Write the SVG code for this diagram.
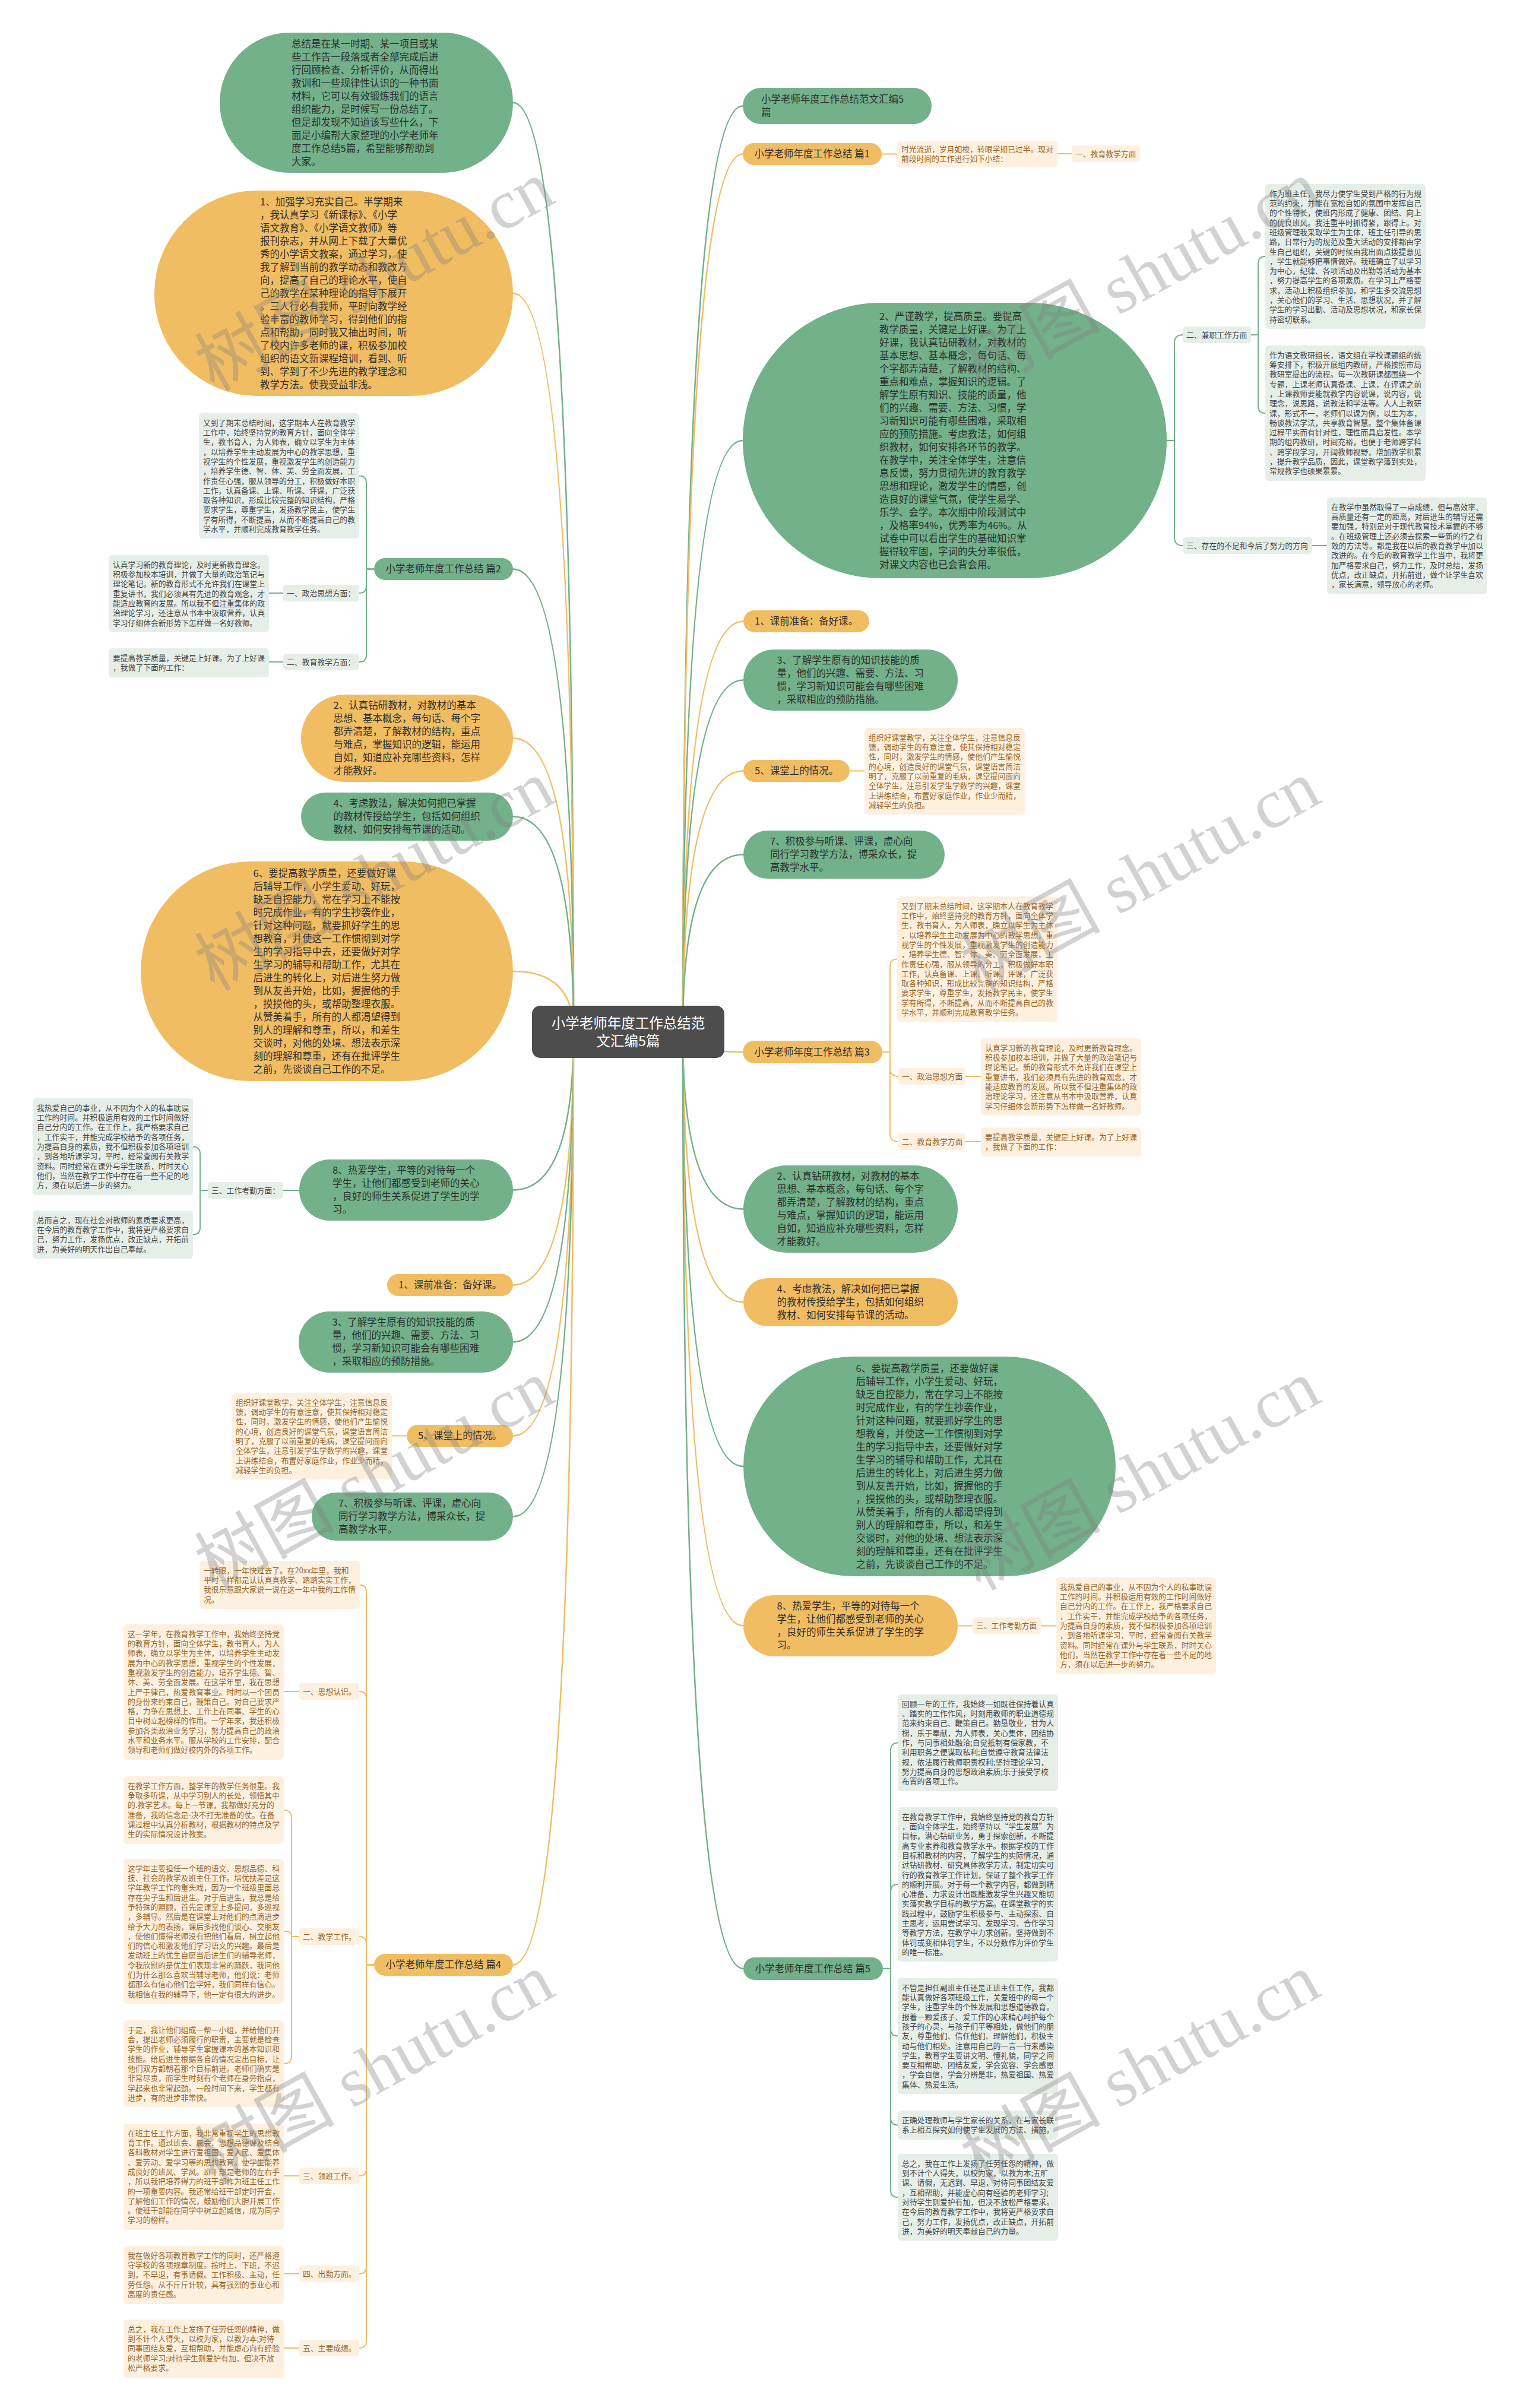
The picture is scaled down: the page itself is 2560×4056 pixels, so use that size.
<svg xmlns="http://www.w3.org/2000/svg" width="2560" height="4056" viewBox="0 0 2560 4056">
<style>
text{font-family:"Noto Sans CJK SC","Noto Sans",sans-serif}
.g{fill:#72b18a}
.o{fill:#f1bd63}
.lg{fill:#e6eee8}
.lo{fill:#fdf0df}
.t{font-size:16.5px;fill:#2e2e2e}
.s{font-size:12.8px;fill:#474747}
.so{font-size:12.8px;fill:#9a6628}
.cg{fill:none;stroke:#72b18a;stroke-width:2.5}
.co{fill:none;stroke:#f1bd63;stroke-width:2.5}
.sg{fill:none;stroke:#72b18a;stroke-width:2}
.sob{fill:none;stroke:#f1bd63;stroke-width:2}
.wm{font-family:"Liberation Serif","Noto Sans CJK SC",serif;font-size:118px;fill:#808080;opacity:.35}
</style>
<rect width="2560" height="4056" fill="#ffffff"/>

<g id="connectors">
<path class="cg" d="M966 1738 Q966 173 864 173"/>
<path class="co" d="M966 1738 Q966 494 864 494"/>
<path class="cg" d="M966 1738 Q966 958.5 864 958.5"/>
<path class="co" d="M966 1738 Q966 1243.5 864 1243.5"/>
<path class="cg" d="M966 1738 Q966 1375.5 864 1375.5"/>
<path class="co" d="M966 1738 Q966 1636 864 1636"/>
<path class="cg" d="M966 1738 Q966 2004.5 864 2004.5"/>
<path class="co" d="M966 1738 Q966 2164.5 864 2164.5"/>
<path class="cg" d="M966 1738 Q966 2260.5 864 2260.5"/>
<path class="co" d="M966 1738 Q966 2418.5 864 2418.5"/>
<path class="cg" d="M966 1738 Q966 2554.5 864 2554.5"/>
<path class="co" d="M966 1738 Q966 3309.5 864 3309.5"/>
<path class="cg" d="M1150 1738 Q1150 178.5 1251 178.5"/>
<path class="co" d="M1150 1738 Q1150 259.5 1251 259.5"/>
<path class="cg" d="M1150 1738 Q1150 742 1251 742"/>
<path class="co" d="M1150 1738 Q1150 1046.5 1252 1046.5"/>
<path class="cg" d="M1150 1738 Q1150 1145.5 1252 1145.5"/>
<path class="co" d="M1150 1738 Q1150 1298.5 1252 1298.5"/>
<path class="cg" d="M1150 1738 Q1150 1439.5 1252 1439.5"/>
<path class="co" d="M1150 1738 Q1150 1772 1251 1772"/>
<path class="cg" d="M1150 1738 Q1150 2036.5 1252 2036.5"/>
<path class="co" d="M1150 1738 Q1150 2193.5 1252 2193.5"/>
<path class="cg" d="M1150 1738 Q1150 2470 1252 2470"/>
<path class="co" d="M1150 1738 Q1150 2738.5 1252 2738.5"/>
<path class="cg" d="M1150 1738 Q1150 3316 1252 3316"/>
<path class="sg" d="M630 958.5 H617 V813.5 Q617 801.5 605 801.5"/>
<path class="sg" d="M630 958.5 H617 V987 Q617 999 605 999"/>
<path class="sg" d="M630 958.5 H617 V1103 Q617 1115 605 1115"/>
<path class="sg" d="M477 999 H453"/>
<path class="sg" d="M477 1115 H453"/>
<path class="sg" d="M504 2005 H477"/>
<path class="sg" d="M350 2005 H337 V1943.5 Q337 1931.5 325 1931.5"/>
<path class="sg" d="M350 2005 H337 V2067.5 Q337 2079.5 325 2079.5"/>
<path class="sob" d="M685 2418.5 H660"/>
<path class="sob" d="M630 3309.5 H617 V2681.5 Q617 2669.5 605 2669.5"/>
<path class="sob" d="M630 3309.5 H617 V2861 Q617 2849 605 2849"/>
<path class="sob" d="M630 3309.5 H617 V3274 Q617 3262 605 3262"/>
<path class="sob" d="M630 3309.5 H617 V3653 Q617 3665 605 3665"/>
<path class="sob" d="M630 3309.5 H617 V3818 Q617 3830 605 3830"/>
<path class="sob" d="M630 3309.5 H617 V3943 Q617 3955 605 3955"/>
<path class="sob" d="M504 2849 H478"/>
<path class="sob" d="M504 3262 H491 V3062 Q491 3049 478 3049"/>
<path class="sob" d="M504 3262 H491 Q491 3253 482 3253 H478"/>
<path class="sob" d="M504 3262 H491 V3463 Q491 3476 478 3476"/>
<path class="sob" d="M504 3665 H478"/>
<path class="sob" d="M504 3830 H478"/>
<path class="sob" d="M504 3955 H478"/>
<path class="sob" d="M1485 259.5 H1511"/>
<path class="sob" d="M1781 259 H1805"/>
<path class="sg" d="M1965 742 H1978 V578 Q1978 564 1992 564"/>
<path class="sg" d="M1965 742 H1978 V905 Q1978 919 1992 919"/>
<path class="sg" d="M2107 564 H2119 V444 Q2119 432 2131 432"/>
<path class="sg" d="M2107 564 H2119 V684 Q2119 696 2131 696"/>
<path class="sg" d="M2210 919 H2235"/>
<path class="sob" d="M1431 1298.5 H1456"/>
<path class="sob" d="M1486 1772 H1499 V1627.5 Q1499 1615.5 1511 1615.5"/>
<path class="sob" d="M1486 1772 H1499 V1799 Q1499 1813 1513 1813"/>
<path class="sob" d="M1486 1772 H1499 V1909 Q1499 1923 1513 1923"/>
<path class="sob" d="M1626 1813 H1652"/>
<path class="sob" d="M1626 1923 H1652"/>
<path class="sob" d="M1613 2738.5 H1638"/>
<path class="sob" d="M1753 2738.5 H1778"/>
<path class="sg" d="M1487 3316 H1500 V2949.5 Q1500 2935.5 1512 2935.5"/>
<path class="sg" d="M1487 3316 H1500 V3186 Q1500 3174 1512 3174"/>
<path class="sg" d="M1487 3316 H1500 V3417.5 Q1500 3429.5 1512 3429.5"/>
<path class="sg" d="M1487 3316 H1500 V3567.5 Q1500 3579.5 1512 3579.5"/>
<path class="sg" d="M1487 3316 H1500 V3689 Q1500 3701 1512 3701"/>
</g>

<g id="center">
<rect x="896" y="1694" width="324" height="88" rx="14" fill="#4d4d4d"/>
<text x="1058" y="1731.5" text-anchor="middle" font-size="23.5" fill="#ffffff"><tspan x="1058">小学老师年度工作总结范</tspan><tspan x="1058" dy="30">文汇编5篇</tspan></text>
</g>

<g id="l-intro">
<rect class="g" x="370" y="55" width="494" height="236" rx="118"/>
<text class="t" x="491" y="80"><tspan x="491">总结是在某一时期、某一项目或某</tspan><tspan x="491" dy="22">些工作告一段落或者全部完成后进</tspan><tspan x="491" dy="22">行回顾检查、分析评价，从而得出</tspan><tspan x="491" dy="22">教训和一些规律性认识的一种书面</tspan><tspan x="491" dy="22">材料，它可以有效锻炼我们的语言</tspan><tspan x="491" dy="22">组织能力，是时候写一份总结了。</tspan><tspan x="491" dy="22">但是却发现不知道该写些什么，下</tspan><tspan x="491" dy="22">面是小编帮大家整理的小学老师年</tspan><tspan x="491" dy="22">度工作总结5篇，希望能够帮助到</tspan><tspan x="491" dy="22">大家。</tspan></text>
</g>

<g id="l-study">
<rect class="o" x="260" y="321" width="604" height="346" rx="173"/>
<text class="t" x="438" y="346"><tspan x="438">1、加强学习充实自己。半学期来</tspan><tspan x="438" dy="22">，我认真学习《新课标》、《小学</tspan><tspan x="438" dy="22">语文教育》、《小学语文教师》等</tspan><tspan x="438" dy="22">报刊杂志，并从网上下载了大量优</tspan><tspan x="438" dy="22">秀的小学语文教案，通过学习，使</tspan><tspan x="438" dy="22">我了解到当前的教学动态和教改方</tspan><tspan x="438" dy="22">向，提高了自己的理论水平，使自</tspan><tspan x="438" dy="22">己的教学在某种理论的指导下展开</tspan><tspan x="438" dy="22">。三人行必有我师，平时向教学经</tspan><tspan x="438" dy="22">验丰富的教师学习，得到他们的指</tspan><tspan x="438" dy="22">点和帮助，同时我又抽出时间，听</tspan><tspan x="438" dy="22">了校内许多老师的课，积极参加校</tspan><tspan x="438" dy="22">组织的语文新课程培训，看到、听</tspan><tspan x="438" dy="22">到、学到了不少先进的教学理念和</tspan><tspan x="438" dy="22">教学方法。使我受益非浅。</tspan></text>
</g>

<g id="l-p2">
<rect class="g" x="630" y="940" width="234" height="37" rx="18.5"/>
<text class="t" x="649.5" y="964.4">小学老师年度工作总结 篇2</text>
<rect class="lg" x="335" y="696" width="270" height="211" rx="6"/>
<text class="s" x="342" y="716.75"><tspan x="342">又到了期末总结时间，这学期本人在教育教学</tspan><tspan x="342" dy="16.3">工作中，始终坚持党的教育方针，面向全体学</tspan><tspan x="342" dy="16.3">生，教书育人，为人师表，确立以学生为主体</tspan><tspan x="342" dy="16.3">，以培养学生主动发展为中心的教学思想，重</tspan><tspan x="342" dy="16.3">视学生的个性发展，重视激发学生的创造能力</tspan><tspan x="342" dy="16.3">，培养学生德、智、体、美、劳全面发展，工</tspan><tspan x="342" dy="16.3">作责任心强，服从领导的分工，积极做好本职</tspan><tspan x="342" dy="16.3">工作，认真备课、上课、听课、评课，广泛获</tspan><tspan x="342" dy="16.3">取各种知识，形成比较完整的知识结构，严格</tspan><tspan x="342" dy="16.3">要求学生，尊重学生，发扬教学民主，使学生</tspan><tspan x="342" dy="16.3">学有所得，不断提高，从而不断提高自己的教</tspan><tspan x="342" dy="16.3">学水平，并顺利完成教育教学任务。</tspan></text>
<rect class="lg" x="477" y="985" width="128" height="28" rx="5"/>
<text class="s" x="483" y="1003.6">一、政治思想方面：</text>
<rect class="lg" x="183" y="935" width="270" height="130" rx="6"/>
<text class="s" x="190" y="955.75"><tspan x="190">认真学习新的教育理论，及时更新教育理念。</tspan><tspan x="190" dy="16.3">积极参加校本培训，并做了大量的政治笔记与</tspan><tspan x="190" dy="16.3">理论笔记。新的教育形式不允许我们在课堂上</tspan><tspan x="190" dy="16.3">重复讲书，我们必须具有先进的教育观念，才</tspan><tspan x="190" dy="16.3">能适应教育的发展。所以我不但注重集体的政</tspan><tspan x="190" dy="16.3">治理论学习，还注意从书本中汲取营养，认真</tspan><tspan x="190" dy="16.3">学习仔细体会新形势下怎样做一名好教师。</tspan></text>
<rect class="lg" x="477" y="1101" width="128" height="28" rx="5"/>
<text class="s" x="483" y="1119.6">二、教育教学方面：</text>
<rect class="lg" x="183" y="1092" width="270" height="49" rx="6"/>
<text class="s" x="190" y="1112.75"><tspan x="190">要提高教学质量，关键是上好课。为了上好课</tspan><tspan x="190" dy="16.3">，我做了下面的工作：</tspan></text>
</g>

<g id="l-2">
<rect class="o" x="507" y="1170" width="357" height="147" rx="73.5"/>
<text class="t" x="561.5" y="1194.4"><tspan x="561.5">2、认真钻研教材，对教材的基本</tspan><tspan x="561.5" dy="22">思想、基本概念，每句话、每个字</tspan><tspan x="561.5" dy="22">都弄清楚，了解教材的结构，重点</tspan><tspan x="561.5" dy="22">与难点，掌握知识的逻辑，能运用</tspan><tspan x="561.5" dy="22">自如，知道应补充哪些资料，怎样</tspan><tspan x="561.5" dy="22">才能教好。</tspan></text>
</g>

<g id="l-4">
<rect class="g" x="507" y="1335" width="357" height="81" rx="40.5"/>
<text class="t" x="561.5" y="1359.4"><tspan x="561.5">4、考虑教法，解决如何把已掌握</tspan><tspan x="561.5" dy="22">的教材传授给学生，包括如何组织</tspan><tspan x="561.5" dy="22">教材、如何安排每节课的活动。</tspan></text>
</g>

<g id="l-6">
<rect class="o" x="237" y="1451" width="627" height="370" rx="185"/>
<text class="t" x="426.5" y="1477"><tspan x="426.5">6、要提高教学质量，还要做好课</tspan><tspan x="426.5" dy="22">后辅导工作，小学生爱动、好玩，</tspan><tspan x="426.5" dy="22">缺乏自控能力，常在学习上不能按</tspan><tspan x="426.5" dy="22">时完成作业，有的学生抄袭作业，</tspan><tspan x="426.5" dy="22">针对这种问题，就要抓好学生的思</tspan><tspan x="426.5" dy="22">想教育，并使这一工作惯彻到对学</tspan><tspan x="426.5" dy="22">生的学习指导中去，还要做好对学</tspan><tspan x="426.5" dy="22">生学习的辅导和帮助工作，尤其在</tspan><tspan x="426.5" dy="22">后进生的转化上，对后进生努力做</tspan><tspan x="426.5" dy="22">到从友善开始，比如，握握他的手</tspan><tspan x="426.5" dy="22">，摸摸他的头，或帮助整理衣服。</tspan><tspan x="426.5" dy="22">从赞美着手，所有的人都渴望得到</tspan><tspan x="426.5" dy="22">别人的理解和尊重，所以，和差生</tspan><tspan x="426.5" dy="22">交谈时，对他的处境、想法表示深</tspan><tspan x="426.5" dy="22">刻的理解和尊重，还有在批评学生</tspan><tspan x="426.5" dy="22">之前，先谈谈自己工作的不足。</tspan></text>
</g>

<g id="l-8">
<rect class="g" x="504" y="1953" width="360" height="103" rx="51.5"/>
<text class="t" x="560" y="1977.4"><tspan x="560">8、热爱学生，平等的对待每一个</tspan><tspan x="560" dy="22">学生，让他们都感受到老师的关心</tspan><tspan x="560" dy="22">，良好的师生关系促进了学生的学</tspan><tspan x="560" dy="22">习。</tspan></text>
<rect class="lg" x="350" y="1991" width="127" height="28" rx="5"/>
<text class="s" x="356" y="2009.6">三、工作考勤方面：</text>
<rect class="lg" x="55" y="1850" width="270" height="163" rx="6"/>
<text class="s" x="62" y="1870.75"><tspan x="62">我热爱自己的事业，从不因为个人的私事耽误</tspan><tspan x="62" dy="16.3">工作的时间。并积极运用有效的工作时间做好</tspan><tspan x="62" dy="16.3">自己分内的工作。在工作上，我严格要求自己</tspan><tspan x="62" dy="16.3">，工作实干，并能完成学校给予的各项任务，</tspan><tspan x="62" dy="16.3">为提高自身的素质，我不但积极参加各项培训</tspan><tspan x="62" dy="16.3">，到各地听课学习，平时，经常查阅有关教学</tspan><tspan x="62" dy="16.3">资料。同时经常在课外与学生联系，时时关心</tspan><tspan x="62" dy="16.3">他们，当然在教学工作中存在着一些不足的地</tspan><tspan x="62" dy="16.3">方，须在以后进一步的努力。</tspan></text>
<rect class="lg" x="55" y="2039" width="270" height="81" rx="6"/>
<text class="s" x="62" y="2059.75"><tspan x="62">总而言之，现在社会对教师的素质要求更高，</tspan><tspan x="62" dy="16.3">在今后的教育教学工作中，我将更严格要求自</tspan><tspan x="62" dy="16.3">己，努力工作，发扬优点，改正缺点，开拓前</tspan><tspan x="62" dy="16.3">进，为美好的明天作出自己奉献。</tspan></text>
</g>

<g id="l-1">
<rect class="o" x="652" y="2146" width="212" height="37" rx="18.5"/>
<text class="t" x="671" y="2170.4">1、课前准备：备好课。</text>
</g>

<g id="l-3">
<rect class="g" x="503" y="2209" width="361" height="103" rx="51.5"/>
<text class="t" x="559.5" y="2233.4"><tspan x="559.5">3、了解学生原有的知识技能的质</tspan><tspan x="559.5" dy="22">量，他们的兴趣、需要、方法、习</tspan><tspan x="559.5" dy="22">惯，学习新知识可能会有哪些困难</tspan><tspan x="559.5" dy="22">，采取相应的预防措施。</tspan></text>
</g>

<g id="l-5">
<rect class="o" x="685" y="2400" width="179" height="37" rx="18.5"/>
<text class="t" x="704" y="2424.4">5、课堂上的情况。</text>
<rect class="lo" x="390" y="2346" width="270" height="146" rx="6"/>
<text class="so" x="397" y="2366.75"><tspan x="397">组织好课堂教学，关注全体学生，注意信息反</tspan><tspan x="397" dy="16.3">馈，调动学生的有意注意，使其保持相对稳定</tspan><tspan x="397" dy="16.3">性，同时，激发学生的情感，使他们产生愉悦</tspan><tspan x="397" dy="16.3">的心境，创造良好的课堂气氛，课堂语言简洁</tspan><tspan x="397" dy="16.3">明了，克服了以前重复的毛病，课堂提问面向</tspan><tspan x="397" dy="16.3">全体学生，注意引发学生学数学的兴趣，课堂</tspan><tspan x="397" dy="16.3">上讲练结合，布置好家庭作业，作业少而精，</tspan><tspan x="397" dy="16.3">减轻学生的负担。</tspan></text>
</g>

<g id="l-7">
<rect class="g" x="525" y="2514" width="339" height="81" rx="40.5"/>
<text class="t" x="570" y="2538.4"><tspan x="570">7、积极参与听课、评课，虚心向</tspan><tspan x="570" dy="22">同行学习教学方法，博采众长，提</tspan><tspan x="570" dy="22">高教学水平。</tspan></text>
</g>

<g id="l-p4">
<rect class="o" x="630" y="3291" width="234" height="37" rx="18.5"/>
<text class="t" x="649.5" y="3315.4">小学老师年度工作总结 篇4</text>
<rect class="lo" x="336" y="2629" width="270" height="81" rx="6"/>
<text class="so" x="343" y="2649.75"><tspan x="343">一转眼，一年快过去了。在20xx年里，我和</tspan><tspan x="343" dy="16.3">平时一样都是认认真真教学、踏踏实实工作，</tspan><tspan x="343" dy="16.3">我很乐意跟大家说一说在这一年中我的工作情</tspan><tspan x="343" dy="16.3">况。</tspan></text>
<rect class="lo" x="504" y="2835" width="101" height="28" rx="5"/>
<text class="so" x="510" y="2853.6">一、思想认识。</text>
<rect class="lo" x="208" y="2736" width="270" height="228" rx="6"/>
<text class="so" x="215" y="2756.75"><tspan x="215">这一学年，在教育教学工作中，我始终坚持党</tspan><tspan x="215" dy="16.3">的教育方针，面向全体学生，教书育人，为人</tspan><tspan x="215" dy="16.3">师表，确立以学生为主体，以培养学生主动发</tspan><tspan x="215" dy="16.3">展为中心的教学思想，重视学生的个性发展，</tspan><tspan x="215" dy="16.3">重视激发学生的创造能力，培养学生德、智、</tspan><tspan x="215" dy="16.3">体、美、劳全面发展。在这学年里，我在思想</tspan><tspan x="215" dy="16.3">上严于律己，热爱教育事业。时时以一个团员</tspan><tspan x="215" dy="16.3">的身份来约束自己，鞭策自己。对自己要求严</tspan><tspan x="215" dy="16.3">格，力争在思想上、工作上在同事、学生的心</tspan><tspan x="215" dy="16.3">目中树立起榜样的作用。一学年来，我还积极</tspan><tspan x="215" dy="16.3">参加各类政治业务学习，努力提高自己的政治</tspan><tspan x="215" dy="16.3">水平和业务水平。服从学校的工作安排，配合</tspan><tspan x="215" dy="16.3">领导和老师们做好校内外的各项工作。</tspan></text>
<rect class="lo" x="504" y="3248" width="101" height="28" rx="5"/>
<text class="so" x="510" y="3266.6">二、教学工作。</text>
<rect class="lo" x="208" y="2992" width="270" height="114" rx="6"/>
<text class="so" x="215" y="3012.75"><tspan x="215">在教学工作方面，整学年的教学任务很重。我</tspan><tspan x="215" dy="16.3">争取多听课，从中学习别人的长处，领悟其中</tspan><tspan x="215" dy="16.3">的.教学艺术。每上一节课，我都做好充分的</tspan><tspan x="215" dy="16.3">准备，我的信念是-决不打无准备的仗。在备</tspan><tspan x="215" dy="16.3">课过程中认真分析教材，根据教材的特点及学</tspan><tspan x="215" dy="16.3">生的实际情况设计教案。</tspan></text>
<rect class="lo" x="208" y="3131" width="270" height="244" rx="6"/>
<text class="so" x="215" y="3151.75"><tspan x="215">这学年主要担任一个班的语文、思想品德、科</tspan><tspan x="215" dy="16.3">技、社会的教学及班主任工作。培优扶差是这</tspan><tspan x="215" dy="16.3">学年教学工作的重头戏，因为一个班级里面总</tspan><tspan x="215" dy="16.3">存在尖子生和后进生。对于后进生，我总是给</tspan><tspan x="215" dy="16.3">予特殊的照顾，首先是课堂上多提问，多巡视</tspan><tspan x="215" dy="16.3">，多辅导。然后是在课堂上对他们的点滴进步</tspan><tspan x="215" dy="16.3">给予大力的表扬，课后多找他们谈心、交朋友</tspan><tspan x="215" dy="16.3">，使他们懂得老师没有把他们看扁，树立起他</tspan><tspan x="215" dy="16.3">们的信心和激发他们学习语文的兴趣。最后是</tspan><tspan x="215" dy="16.3">发动班上的优生自愿当后进生们的辅导老师，</tspan><tspan x="215" dy="16.3">令我欣慰的是优生们表现非常的踊跃，我问他</tspan><tspan x="215" dy="16.3">们为什么那么喜欢当辅导老师，他们说：老师</tspan><tspan x="215" dy="16.3">都那么有信心他们会学好，我们同样有信心。</tspan><tspan x="215" dy="16.3">我相信在我的辅导下，他一定有很大的进步。</tspan></text>
<rect class="lo" x="208" y="3403" width="270" height="146" rx="6"/>
<text class="so" x="215" y="3423.75"><tspan x="215">于是，我让他们组成一帮一小组，并给他们开</tspan><tspan x="215" dy="16.3">会，提出老师必须履行的职责，主要就是检查</tspan><tspan x="215" dy="16.3">学生的作业，辅导学生掌握课本的基本知识和</tspan><tspan x="215" dy="16.3">技能。给后进生根据各自的情况定出目标，让</tspan><tspan x="215" dy="16.3">他们双方都朝着那个目标前进。老师们确实是</tspan><tspan x="215" dy="16.3">非常尽责，而学生时刻有个老师在身旁指点，</tspan><tspan x="215" dy="16.3">学起来也非常起劲。一段时间下来，学生都有</tspan><tspan x="215" dy="16.3">进步，有的进步非常快。</tspan></text>
<rect class="lo" x="504" y="3651" width="101" height="28" rx="5"/>
<text class="so" x="510" y="3669.6">三、领班工作。</text>
<rect class="lo" x="208" y="3577" width="270" height="179" rx="6"/>
<text class="so" x="215" y="3597.75"><tspan x="215">在班主任工作方面，我非常重视学生的思想教</tspan><tspan x="215" dy="16.3">育工作。通过班会、晨会、思想品德课及结合</tspan><tspan x="215" dy="16.3">各科教材对学生进行爱祖国、爱人民、爱集体</tspan><tspan x="215" dy="16.3">、爱劳动、爱学习等的思想教育。使学生能养</tspan><tspan x="215" dy="16.3">成良好的班风、学风。班干部是老师的左右手</tspan><tspan x="215" dy="16.3">，所以我把培养得力的班干部作为班主任工作</tspan><tspan x="215" dy="16.3">的一项重要内容。我还常给班干部定时开会，</tspan><tspan x="215" dy="16.3">了解他们工作的情况，鼓励他们大胆开展工作</tspan><tspan x="215" dy="16.3">。使班干部能在同学中树立起威信，成为同学</tspan><tspan x="215" dy="16.3">学习的榜样。</tspan></text>
<rect class="lo" x="504" y="3816" width="101" height="28" rx="5"/>
<text class="so" x="510" y="3834.6">四、出勤方面。</text>
<rect class="lo" x="208" y="3783" width="270" height="98" rx="6"/>
<text class="so" x="215" y="3803.75"><tspan x="215">我在做好各项教育教学工作的同时，还严格遵</tspan><tspan x="215" dy="16.3">守学校的各项规章制度。按时上、下班，不迟</tspan><tspan x="215" dy="16.3">到，不早退，有事请假。工作积极、主动，任</tspan><tspan x="215" dy="16.3">劳任怨。从不斤斤计较，具有强烈的事业心和</tspan><tspan x="215" dy="16.3">高度的责任感。</tspan></text>
<rect class="lo" x="504" y="3941" width="101" height="28" rx="5"/>
<text class="so" x="510" y="3959.6">五、主要成绩。</text>
<rect class="lo" x="208" y="3907" width="270" height="98" rx="6"/>
<text class="so" x="215" y="3927.75"><tspan x="215">总之，我在工作上发扬了任劳任怨的精神，做</tspan><tspan x="215" dy="16.3">到不计个人得失，以校为家，以教为本;对待</tspan><tspan x="215" dy="16.3">同事团结友爱，互相帮助，并能虚心向有经验</tspan><tspan x="215" dy="16.3">的老师学习;对待学生则爱护有加，但决不放</tspan><tspan x="215" dy="16.3">松严格要求。</tspan></text>
</g>

<g id="r-title">
<rect class="g" x="1251" y="148" width="318" height="61" rx="30.5"/>
<text class="t" x="1282" y="173.4"><tspan x="1282">小学老师年度工作总结范文汇编5</tspan><tspan x="1282" dy="22">篇</tspan></text>
</g>

<g id="r-p1">
<rect class="o" x="1251" y="241" width="234" height="37" rx="18.5"/>
<text class="t" x="1270.5" y="265.4">小学老师年度工作总结 篇1</text>
<rect class="lo" x="1511" y="237" width="270" height="45" rx="6"/>
<text class="so" x="1518" y="256"><tspan x="1518">时光流逝，岁月如梭，转眼学期已过半。现对</tspan><tspan x="1518" dy="16.3">前段时间的工作进行如下小结：</tspan></text>
<rect class="lo" x="1805" y="245" width="115" height="28" rx="5"/>
<text class="so" x="1811" y="263.6">一、教育教学方面</text>
</g>

<g id="r-2strict">
<rect class="g" x="1251" y="510" width="714" height="464" rx="232"/>
<text class="t" x="1481" y="538.9"><tspan x="1481">2、严谨教学，提高质量。要提高</tspan><tspan x="1481" dy="22">教学质量，关键是上好课。为了上</tspan><tspan x="1481" dy="22">好课，我认真钻研教材，对教材的</tspan><tspan x="1481" dy="22">基本思想、基本概念，每句话、每</tspan><tspan x="1481" dy="22">个字都弄清楚，了解教材的结构、</tspan><tspan x="1481" dy="22">重点和难点，掌握知识的逻辑。了</tspan><tspan x="1481" dy="22">解学生原有知识、技能的质量，他</tspan><tspan x="1481" dy="22">们的兴趣、需要、方法、习惯，学</tspan><tspan x="1481" dy="22">习新知识可能有哪些困难，采取相</tspan><tspan x="1481" dy="22">应的预防措施。考虑教法，如何组</tspan><tspan x="1481" dy="22">织教材，如何安排各环节的教学。</tspan><tspan x="1481" dy="22">在教学中，关注全体学生，注意信</tspan><tspan x="1481" dy="22">息反馈，努力贯彻先进的教育教学</tspan><tspan x="1481" dy="22">思想和理论，激发学生的情感，创</tspan><tspan x="1481" dy="22">造良好的课堂气氛，使学生易学、</tspan><tspan x="1481" dy="22">乐学、会学。本次期中阶段测试中</tspan><tspan x="1481" dy="22">，及格率94%，优秀率为46%。从</tspan><tspan x="1481" dy="22">试卷中可以看出学生的基础知识掌</tspan><tspan x="1481" dy="22">握得较牢固，字词的失分率很低，</tspan><tspan x="1481" dy="22">对课文内容也已会背会用。</tspan></text>
<rect class="lg" x="1992" y="550" width="115" height="28" rx="5"/>
<text class="s" x="1998" y="568.6">二、兼职工作方面</text>
<rect class="lg" x="2131" y="310" width="270" height="244" rx="6"/>
<text class="s" x="2138" y="330.75"><tspan x="2138">作为班主任，我尽力使学生受到严格的行为规</tspan><tspan x="2138" dy="16.3">范的约束，并能在宽松自如的氛围中发挥自己</tspan><tspan x="2138" dy="16.3">的个性特长，使班内形成了健康、团结、向上</tspan><tspan x="2138" dy="16.3">的优良班风。我注重平时抓得紧，跟得上。对</tspan><tspan x="2138" dy="16.3">班级管理我采取学生为主体，班主任引导的思</tspan><tspan x="2138" dy="16.3">路，日常行为的规范及重大活动的安排都由学</tspan><tspan x="2138" dy="16.3">生自己组织，关键的时候由我出面点拨提意见</tspan><tspan x="2138" dy="16.3">，学生就能够把事情做好。我班确立了以学习</tspan><tspan x="2138" dy="16.3">为中心，纪律、各项活动及出勤等活动为基本</tspan><tspan x="2138" dy="16.3">，努力提高学生的各项素质。在学习上严格要</tspan><tspan x="2138" dy="16.3">求，活动上积极组织参加，和学生多交流思想</tspan><tspan x="2138" dy="16.3">，关心他们的学习、生活、思想状况，并了解</tspan><tspan x="2138" dy="16.3">学生的学习出勤、活动及思想状况，和家长保</tspan><tspan x="2138" dy="16.3">持密切联系。</tspan></text>
<rect class="lg" x="2131" y="582" width="270" height="228" rx="6"/>
<text class="s" x="2138" y="602.75"><tspan x="2138">作为语文教研组长，语文组在学校课题组的统</tspan><tspan x="2138" dy="16.3">筹安排下，积极开展组内教研，严格按照市局</tspan><tspan x="2138" dy="16.3">教研室提出的流程。每一次教研课都围绕一个</tspan><tspan x="2138" dy="16.3">专题，上课老师认真备课、上课，在评课之前</tspan><tspan x="2138" dy="16.3">，上课教师要能就教学内容说课，说内容，说</tspan><tspan x="2138" dy="16.3">理念，说思路，说教法和学法等。人人上教研</tspan><tspan x="2138" dy="16.3">课，形式不一，老师们以课为例，以生为本，</tspan><tspan x="2138" dy="16.3">畅谈教法学法，共享教育智慧。整个集体备课</tspan><tspan x="2138" dy="16.3">过程平实而有针对性，理性而具启发性。本学</tspan><tspan x="2138" dy="16.3">期的组内教研，时间充裕，也便于老师跨学科</tspan><tspan x="2138" dy="16.3">、跨学段学习，开阔教师视野，增加教学积累</tspan><tspan x="2138" dy="16.3">，提升教学品质，因此，课堂教学落到实处，</tspan><tspan x="2138" dy="16.3">常规教学也硕果累累。</tspan></text>
<rect class="lg" x="1992" y="905" width="218" height="28" rx="5"/>
<text class="s" x="1998" y="923.6">三、存在的不足和今后了努力的方向</text>
<rect class="lg" x="2235" y="838" width="270" height="163" rx="6"/>
<text class="s" x="2242" y="858.75"><tspan x="2242">在教学中虽然取得了一点成绩，但与高效率、</tspan><tspan x="2242" dy="16.3">高质量还有一定的距离，对后进生的辅导还需</tspan><tspan x="2242" dy="16.3">要加强，特别是对于现代教育技术掌握的不够</tspan><tspan x="2242" dy="16.3">。在班级管理上还必须去探索一些新的行之有</tspan><tspan x="2242" dy="16.3">效的方法等。都是我在以后的教育教学中加以</tspan><tspan x="2242" dy="16.3">改进的。在今后的教育教学工作当中，我将更</tspan><tspan x="2242" dy="16.3">加严格要求自己，努力工作，及时总结，发扬</tspan><tspan x="2242" dy="16.3">优点，改正缺点，开拓前进，做个让学生喜欢</tspan><tspan x="2242" dy="16.3">，家长满意，领导放心的老师。</tspan></text>
</g>

<g id="r-1">
<rect class="o" x="1252" y="1028" width="212" height="37" rx="18.5"/>
<text class="t" x="1271" y="1052.4">1、课前准备：备好课。</text>
</g>

<g id="r-3">
<rect class="g" x="1252" y="1094" width="361" height="103" rx="51.5"/>
<text class="t" x="1308.5" y="1118.4"><tspan x="1308.5">3、了解学生原有的知识技能的质</tspan><tspan x="1308.5" dy="22">量，他们的兴趣、需要、方法、习</tspan><tspan x="1308.5" dy="22">惯，学习新知识可能会有哪些困难</tspan><tspan x="1308.5" dy="22">，采取相应的预防措施。</tspan></text>
</g>

<g id="r-5">
<rect class="o" x="1252" y="1280" width="179" height="37" rx="18.5"/>
<text class="t" x="1271" y="1304.4">5、课堂上的情况。</text>
<rect class="lo" x="1456" y="1226" width="270" height="146" rx="6"/>
<text class="so" x="1463" y="1246.75"><tspan x="1463">组织好课堂教学，关注全体学生，注意信息反</tspan><tspan x="1463" dy="16.3">馈，调动学生的有意注意，使其保持相对稳定</tspan><tspan x="1463" dy="16.3">性，同时，激发学生的情感，使他们产生愉悦</tspan><tspan x="1463" dy="16.3">的心境，创造良好的课堂气氛，课堂语言简洁</tspan><tspan x="1463" dy="16.3">明了，克服了以前重复的毛病，课堂提问面向</tspan><tspan x="1463" dy="16.3">全体学生，注意引发学生学数学的兴趣，课堂</tspan><tspan x="1463" dy="16.3">上讲练结合，布置好家庭作业，作业少而精，</tspan><tspan x="1463" dy="16.3">减轻学生的负担。</tspan></text>
</g>

<g id="r-7">
<rect class="g" x="1252" y="1399" width="339" height="81" rx="40.5"/>
<text class="t" x="1297" y="1423.4"><tspan x="1297">7、积极参与听课、评课，虚心向</tspan><tspan x="1297" dy="22">同行学习教学方法，博采众长，提</tspan><tspan x="1297" dy="22">高教学水平。</tspan></text>
</g>

<g id="r-p3">
<rect class="o" x="1251" y="1753" width="235" height="38" rx="19"/>
<text class="t" x="1270.5" y="1777.9">小学老师年度工作总结 篇3</text>
<rect class="lo" x="1511" y="1510" width="270" height="211" rx="6"/>
<text class="so" x="1518" y="1530.75"><tspan x="1518">又到了期末总结时间，这学期本人在教育教学</tspan><tspan x="1518" dy="16.3">工作中，始终坚持党的教育方针，面向全体学</tspan><tspan x="1518" dy="16.3">生，教书育人，为人师表，确立以学生为主体</tspan><tspan x="1518" dy="16.3">，以培养学生主动发展为中心的教学思想，重</tspan><tspan x="1518" dy="16.3">视学生的个性发展，重视激发学生的创造能力</tspan><tspan x="1518" dy="16.3">，培养学生德、智、体、美、劳全面发展，工</tspan><tspan x="1518" dy="16.3">作责任心强，服从领导的分工，积极做好本职</tspan><tspan x="1518" dy="16.3">工作，认真备课、上课、听课、评课，广泛获</tspan><tspan x="1518" dy="16.3">取各种知识，形成比较完整的知识结构，严格</tspan><tspan x="1518" dy="16.3">要求学生，尊重学生，发扬教学民主，使学生</tspan><tspan x="1518" dy="16.3">学有所得，不断提高，从而不断提高自己的教</tspan><tspan x="1518" dy="16.3">学水平，并顺利完成教育教学任务。</tspan></text>
<rect class="lo" x="1513" y="1799" width="113" height="28" rx="5"/>
<text class="so" x="1519" y="1817.6">一、政治思想方面</text>
<rect class="lo" x="1652" y="1749" width="270" height="130" rx="6"/>
<text class="so" x="1659" y="1769.75"><tspan x="1659">认真学习新的教育理论，及时更新教育理念。</tspan><tspan x="1659" dy="16.3">积极参加校本培训，并做了大量的政治笔记与</tspan><tspan x="1659" dy="16.3">理论笔记。新的教育形式不允许我们在课堂上</tspan><tspan x="1659" dy="16.3">重复讲书，我们必须具有先进的教育观念，才</tspan><tspan x="1659" dy="16.3">能适应教育的发展。所以我不但注重集体的政</tspan><tspan x="1659" dy="16.3">治理论学习，还注意从书本中汲取营养，认真</tspan><tspan x="1659" dy="16.3">学习仔细体会新形势下怎样做一名好教师。</tspan></text>
<rect class="lo" x="1513" y="1909" width="113" height="28" rx="5"/>
<text class="so" x="1519" y="1927.6">二、教育教学方面</text>
<rect class="lo" x="1652" y="1899" width="270" height="49" rx="6"/>
<text class="so" x="1659" y="1919.75"><tspan x="1659">要提高教学质量，关键是上好课。为了上好课</tspan><tspan x="1659" dy="16.3">，我做了下面的工作：</tspan></text>
</g>

<g id="r-2">
<rect class="g" x="1252" y="1963" width="361" height="147" rx="73.5"/>
<text class="t" x="1308.5" y="1987.4"><tspan x="1308.5">2、认真钻研教材，对教材的基本</tspan><tspan x="1308.5" dy="22">思想、基本概念，每句话、每个字</tspan><tspan x="1308.5" dy="22">都弄清楚，了解教材的结构，重点</tspan><tspan x="1308.5" dy="22">与难点，掌握知识的逻辑，能运用</tspan><tspan x="1308.5" dy="22">自如，知道应补充哪些资料，怎样</tspan><tspan x="1308.5" dy="22">才能教好。</tspan></text>
</g>

<g id="r-4">
<rect class="o" x="1252" y="2153" width="361" height="81" rx="40.5"/>
<text class="t" x="1308.5" y="2177.4"><tspan x="1308.5">4、考虑教法，解决如何把已掌握</tspan><tspan x="1308.5" dy="22">的教材传授给学生，包括如何组织</tspan><tspan x="1308.5" dy="22">教材、如何安排每节课的活动。</tspan></text>
</g>

<g id="r-6">
<rect class="g" x="1252" y="2285" width="627" height="370" rx="185"/>
<text class="t" x="1441.5" y="2310.9"><tspan x="1441.5">6、要提高教学质量，还要做好课</tspan><tspan x="1441.5" dy="22">后辅导工作，小学生爱动、好玩，</tspan><tspan x="1441.5" dy="22">缺乏自控能力，常在学习上不能按</tspan><tspan x="1441.5" dy="22">时完成作业，有的学生抄袭作业，</tspan><tspan x="1441.5" dy="22">针对这种问题，就要抓好学生的思</tspan><tspan x="1441.5" dy="22">想教育，并使这一工作惯彻到对学</tspan><tspan x="1441.5" dy="22">生的学习指导中去，还要做好对学</tspan><tspan x="1441.5" dy="22">生学习的辅导和帮助工作，尤其在</tspan><tspan x="1441.5" dy="22">后进生的转化上，对后进生努力做</tspan><tspan x="1441.5" dy="22">到从友善开始，比如，握握他的手</tspan><tspan x="1441.5" dy="22">，摸摸他的头，或帮助整理衣服。</tspan><tspan x="1441.5" dy="22">从赞美着手，所有的人都渴望得到</tspan><tspan x="1441.5" dy="22">别人的理解和尊重，所以，和差生</tspan><tspan x="1441.5" dy="22">交谈时，对他的处境、想法表示深</tspan><tspan x="1441.5" dy="22">刻的理解和尊重，还有在批评学生</tspan><tspan x="1441.5" dy="22">之前，先谈谈自己工作的不足。</tspan></text>
</g>

<g id="r-8">
<rect class="o" x="1252" y="2687" width="361" height="103" rx="51.5"/>
<text class="t" x="1308.5" y="2711.4"><tspan x="1308.5">8、热爱学生，平等的对待每一个</tspan><tspan x="1308.5" dy="22">学生，让他们都感受到老师的关心</tspan><tspan x="1308.5" dy="22">，良好的师生关系促进了学生的学</tspan><tspan x="1308.5" dy="22">习。</tspan></text>
<rect class="lo" x="1638" y="2724.5" width="115" height="28" rx="5"/>
<text class="so" x="1644" y="2743.1">三、工作考勤方面</text>
<rect class="lo" x="1778" y="2657" width="270" height="163" rx="6"/>
<text class="so" x="1785" y="2677.75"><tspan x="1785">我热爱自己的事业，从不因为个人的私事耽误</tspan><tspan x="1785" dy="16.3">工作的时间。并积极运用有效的工作时间做好</tspan><tspan x="1785" dy="16.3">自己分内的工作。在工作上，我严格要求自己</tspan><tspan x="1785" dy="16.3">，工作实干，并能完成学校给予的各项任务，</tspan><tspan x="1785" dy="16.3">为提高自身的素质，我不但积极参加各项培训</tspan><tspan x="1785" dy="16.3">，到各地听课学习，平时，经常查阅有关教学</tspan><tspan x="1785" dy="16.3">资料。同时经常在课外与学生联系，时时关心</tspan><tspan x="1785" dy="16.3">他们，当然在教学工作中存在着一些不足的地</tspan><tspan x="1785" dy="16.3">方，须在以后进一步的努力。</tspan></text>
</g>

<g id="r-p5">
<rect class="g" x="1252" y="3297" width="235" height="38" rx="19"/>
<text class="t" x="1271.5" y="3321.9">小学老师年度工作总结 篇5</text>
<rect class="lg" x="1512" y="2854" width="270" height="163" rx="6"/>
<text class="s" x="1519" y="2874.75"><tspan x="1519">回顾一年的工作，我始终一如既往保持着认真</tspan><tspan x="1519" dy="16.3">、踏实的工作作风，时刻用教师的职业道德规</tspan><tspan x="1519" dy="16.3">范来约束自己、鞭策自己。勤恳敬业，甘为人</tspan><tspan x="1519" dy="16.3">梯，乐于奉献，为人师表，关心集体，团结协</tspan><tspan x="1519" dy="16.3">作，与同事相处融洽;自觉抵制有偿家教，不</tspan><tspan x="1519" dy="16.3">利用职务之便谋取私利;自觉遵守教育法律法</tspan><tspan x="1519" dy="16.3">规，依法履行教师职责权利;坚持理论学习，</tspan><tspan x="1519" dy="16.3">努力提高自身的思想政治素质;乐于接受学校</tspan><tspan x="1519" dy="16.3">布置的各项工作。</tspan></text>
<rect class="lg" x="1512" y="3044" width="270" height="260" rx="6"/>
<text class="s" x="1519" y="3064.75"><tspan x="1519">在教育教学工作中，我始终坚持党的教育方针</tspan><tspan x="1519" dy="16.3">，面向全体学生，始终坚持以“学生发展”为</tspan><tspan x="1519" dy="16.3">目标，潜心钻研业务，勇于探索创新，不断提</tspan><tspan x="1519" dy="16.3">高专业素养和教育教学水平。根据学校的工作</tspan><tspan x="1519" dy="16.3">目标和教材的内容，了解学生的实际情况，通</tspan><tspan x="1519" dy="16.3">过钻研教材、研究具体教学方法，制定切实可</tspan><tspan x="1519" dy="16.3">行的教育教学工作计划，保证了整个教学工作</tspan><tspan x="1519" dy="16.3">的顺利开展。对于每一个教学内容，都做到精</tspan><tspan x="1519" dy="16.3">心准备，力求设计出既能激发学生兴趣又能切</tspan><tspan x="1519" dy="16.3">实落实教学目标的教学方案。在课堂教学的实</tspan><tspan x="1519" dy="16.3">践过程中，鼓励学生积极参与、主动探索、自</tspan><tspan x="1519" dy="16.3">主思考，运用尝试学习、发现学习、合作学习</tspan><tspan x="1519" dy="16.3">等教学方法，在教学中力求创新。坚持做到不</tspan><tspan x="1519" dy="16.3">体罚或变相体罚学生，不以分数作为评价学生</tspan><tspan x="1519" dy="16.3">的唯一标准。</tspan></text>
<rect class="lg" x="1512" y="3332" width="270" height="195" rx="6"/>
<text class="s" x="1519" y="3352.75"><tspan x="1519">不管是担任副班主任还是正班主任工作，我都</tspan><tspan x="1519" dy="16.3">能认真做好各项班级工作，关爱班中的每一个</tspan><tspan x="1519" dy="16.3">学生，注重学生的个性发展和思想道德教育。</tspan><tspan x="1519" dy="16.3">报着一颗爱孩子、爱工作的心来精心呵护每个</tspan><tspan x="1519" dy="16.3">孩子的心灵，与孩子们平等相处，做他们的朋</tspan><tspan x="1519" dy="16.3">友，尊重他们、信任他们、理解他们，积极主</tspan><tspan x="1519" dy="16.3">动与他们相处。注意用自己的一言一行来感染</tspan><tspan x="1519" dy="16.3">学生，教育学生要讲文明、懂礼貌，同学之间</tspan><tspan x="1519" dy="16.3">要互相帮助、团结友爱，学会宽容、学会感恩</tspan><tspan x="1519" dy="16.3">，学会自信，学会分辨是非，热爱祖国、热爱</tspan><tspan x="1519" dy="16.3">集体、热爱生活。</tspan></text>
<rect class="lg" x="1512" y="3555" width="270" height="49" rx="6"/>
<text class="s" x="1519" y="3575.75"><tspan x="1519">正确处理教师与学生家长的关系，在与家长联</tspan><tspan x="1519" dy="16.3">系上相互探究如何使学生发展的方法、措施。</tspan></text>
<rect class="lg" x="1512" y="3628" width="270" height="146" rx="6"/>
<text class="s" x="1519" y="3648.75"><tspan x="1519">总之，我在工作上发扬了任劳任怨的精神，做</tspan><tspan x="1519" dy="16.3">到不计个人得失，以校为家，以教为本;五旷</tspan><tspan x="1519" dy="16.3">课、请假，无迟到、早退，对待同事团结友爱</tspan><tspan x="1519" dy="16.3">，互相帮助，并能虚心向有经验的老师学习;</tspan><tspan x="1519" dy="16.3">对待学生则爱护有加，但决不放松严格要求。</tspan><tspan x="1519" dy="16.3">在今后的教育教学工作中，我将更严格要求自</tspan><tspan x="1519" dy="16.3">己，努力工作，发扬优点，改正缺点，开拓前</tspan><tspan x="1519" dy="16.3">进，为美好的明天奉献自己的力量。</tspan></text>
</g>

<g id="watermarks">
<text class="wm" text-anchor="middle" transform="translate(650 500) rotate(-29)">树图 shutu.cn</text>
<text class="wm" text-anchor="middle" transform="translate(1940 500) rotate(-29)">树图 shutu.cn</text>
<text class="wm" text-anchor="middle" transform="translate(650 1510) rotate(-29)">树图 shutu.cn</text>
<text class="wm" text-anchor="middle" transform="translate(1940 1510) rotate(-29)">树图 shutu.cn</text>
<text class="wm" text-anchor="middle" transform="translate(650 2520) rotate(-29)">树图 shutu.cn</text>
<text class="wm" text-anchor="middle" transform="translate(1940 2520) rotate(-29)">树图 shutu.cn</text>
<text class="wm" text-anchor="middle" transform="translate(650 3520) rotate(-29)">树图 shutu.cn</text>
<text class="wm" text-anchor="middle" transform="translate(1940 3520) rotate(-29)">树图 shutu.cn</text>
</g>
</svg>
